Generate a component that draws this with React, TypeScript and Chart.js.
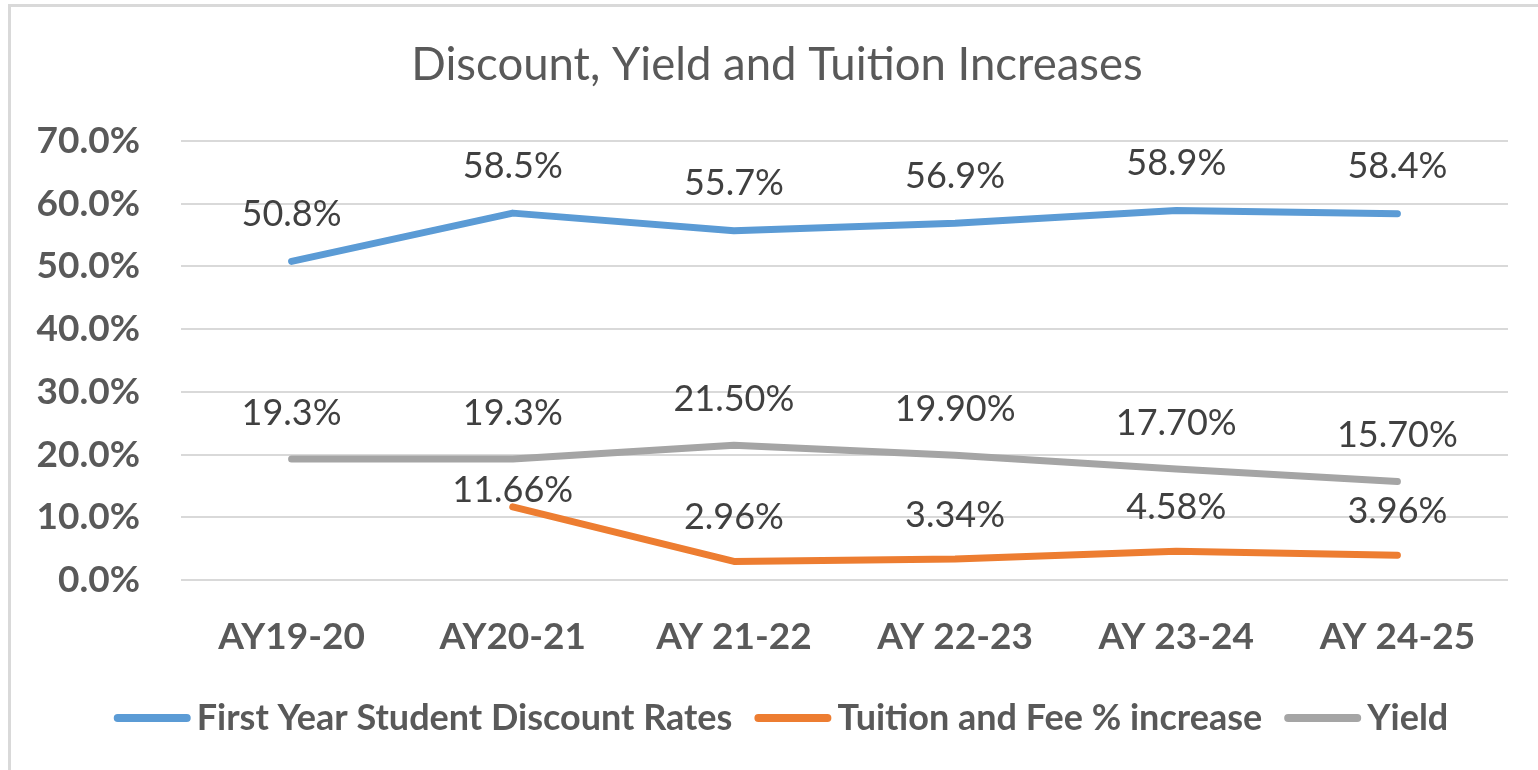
import React, { useEffect, useRef } from "react";
import { Chart, registerables } from "chart.js";

Chart.register(...registerables);

const chartTitle = "Discount, Yield and Tuition Increases";
const categories = ["AY19-20", "AY20-21", "AY 21-22", "AY 22-23", "AY 23-24", "AY 24-25"];
const discountRates = [50.8, 58.5, 55.7, 56.9, 58.9, 58.4];
const tuitionIncrease = [null, 11.66, 2.96, 3.34, 4.58, 3.96];
const yieldRates = [19.3, 19.3, 21.5, 19.9, 17.7, 15.7];
const discountLabels = ["50.8%", "58.5%", "55.7%", "56.9%", "58.9%", "58.4%"];
const tuitionLabels = ["", "11.66%", "2.96%", "3.34%", "4.58%", "3.96%"];
const yieldLabels = ["19.3%", "19.3%", "21.50%", "19.90%", "17.70%", "15.70%"];
const yTicks = [0, 10, 20, 30, 40, 50, 60, 70];
const seriesNames = ["First Year Student Discount Rates", "Tuition and Fee % increase", "Yield"];
const seriesColors = ["#5B9BD5", "#ED7D31", "#A5A5A5"];

const FONT = "Lato, 'Open Sans', sans-serif";

const decorPlugin = {
  id: "decor",
  afterDatasetsDraw(chart: any) {
    const ctx = chart.ctx;
    const labelSets = [discountLabels, tuitionLabels, yieldLabels];
    const lifts = [47, 44, 46];
    ctx.save();
    ctx.fillStyle = "#404040";
    ctx.font = `400 36px ${FONT}`;
    ctx.textAlign = "center";
    ctx.textBaseline = "middle";
    chart.data.datasets.forEach((ds: any, di: number) => {
      const meta = chart.getDatasetMeta(di);
      meta.data.forEach((pt: any, i: number) => {
        const v = ds.data[i];
        if (v === null || v === undefined) return;
        let lift = lifts[di];
        if (di === 1 && i === 1) lift = 16;
        ctx.fillText(labelSets[di][i], pt.x, pt.y - lift);
      });
    });
    ctx.restore();
  },
  afterDraw(chart: any) {
    const ctx = chart.ctx;
    ctx.save();
    // title
    ctx.fillStyle = "#595959";
    ctx.font = `400 45.5px ${FONT}`;
    ctx.textAlign = "center";
    ctx.textBaseline = "middle";
    ctx.fillText(chartTitle, 769, 61);
    // legend
    ctx.font = `700 36px ${FONT}`;
    const lineW = 77;
    const gap = 6;
    const itemGap = 22;
    const widths = seriesNames.map((n) => ctx.measureText(n).width);
    const total = widths.reduce((a, w) => a + lineW + gap + w, 0) + itemGap * (seriesNames.length - 1);
    let x = 773 - total / 2;
    const y = 714;
    ctx.textAlign = "left";
    seriesNames.forEach((n, i) => {
      ctx.strokeStyle = seriesColors[i];
      ctx.lineWidth = 8;
      ctx.lineCap = "round";
      ctx.beginPath();
      ctx.moveTo(x + 4, y);
      ctx.lineTo(x + lineW - 4, y);
      ctx.stroke();
      x += lineW + gap;
      ctx.fillStyle = "#595959";
      ctx.fillText(n, x, y);
      x += widths[i] + itemGap;
    });
    ctx.restore();
  },
};

export default function App() {
  const ref = useRef<HTMLCanvasElement | null>(null);
  useEffect(() => {
    if (!ref.current) return;
    const chart = new Chart(ref.current, {
      type: "line",
      data: {
        labels: categories,
        datasets: [
          { label: seriesNames[0], data: discountRates, borderColor: seriesColors[0], backgroundColor: seriesColors[0] },
          { label: seriesNames[1], data: tuitionIncrease, borderColor: seriesColors[1], backgroundColor: seriesColors[1] },
          { label: seriesNames[2], data: yieldRates, borderColor: seriesColors[2], backgroundColor: seriesColors[2] },
        ].map((d) => ({
          ...d,
          borderWidth: 7,
          borderCapStyle: "round",
          borderJoinStyle: "round",
          pointRadius: 0,
          pointHoverRadius: 0,
          tension: 0,
          fill: false,
        })) as any,
      },
      options: {
        responsive: false,
        animation: false,
        layout: { padding: { top: 137, right: 38, bottom: 90, left: 0 } },
        plugins: {
          legend: { display: false },
          title: { display: false },
          tooltip: { enabled: false },
        },
        scales: {
          x: {
            offset: true,
            grid: { display: false, drawTicks: false },
            border: { display: false },
            ticks: { color: "#595959", font: { family: FONT, size: 37, weight: "bold" }, padding: 35, maxRotation: 0 },
            afterFit: (s: any) => { s.height = 100; },
          },
          y: {
            min: 0,
            max: 70,
            grid: { color: "#D9D9D9", lineWidth: 2, drawTicks: false },
            border: { display: false },
            afterBuildTicks: (s: any) => { s.ticks = yTicks.map((v) => ({ value: v })); },
            ticks: {
              color: "#595959",
              font: { family: FONT, size: 37, weight: "bold" },
              padding: 41,
              callback: (v: any) => Number(v).toFixed(1) + "%",
            },
            afterFit: (s: any) => { s.width = 173; },
          },
        },
      },
      plugins: [decorPlugin],
    });
    return () => chart.destroy();
  }, []);
  return (
    <div style={{ position: "absolute", left: 0, top: 0, width: 1538, height: 770, overflow: "hidden", background: "#fff" }}>
      <div style={{ position: "absolute", left: 8, top: 4, width: 1600, height: 800, borderLeft: "3px solid #D9D9D9", borderTop: "3px solid #D9D9D9", boxSizing: "border-box" }} />
      <canvas ref={ref} width={1538} height={766} style={{ position: "absolute", left: 8, top: 4, width: 1538, height: 766 }} />
    </div>
  );
}
